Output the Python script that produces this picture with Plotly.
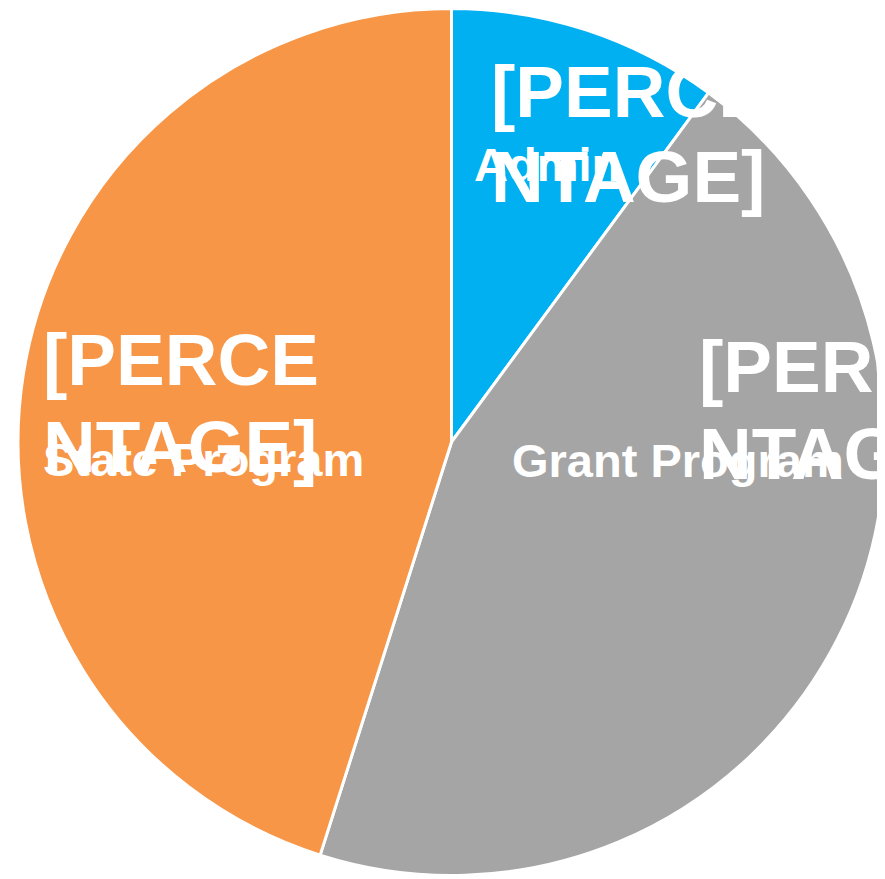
import plotly.graph_objects as go

# slice data (share of total in %)
categories = ["Admin", "Grant Program", "State Program"]
shares = [10.1, 44.8, 45.1]
colors = ["#00B0F0", "#A5A5A5", "#F79646"]
pct_label = "[PERCENTAGE]"   # the chart shows the unfilled Excel placeholder

# the page body keeps its default 8px margin, so the figure is drawn 8px in
OFF = 8
W, H = 885 - OFF, 879 - OFF


def px_x(x):
    # x in screenshot pixels -> paper coords
    return (x - OFF) / W


def px_y(y):
    return 1 - (y - OFF) / H


fig = go.Figure()
fig.add_trace(go.Pie(
    labels=categories,
    values=shares,
    sort=False,
    direction="clockwise",
    rotation=0,
    marker=dict(colors=colors, line=dict(color="white", width=3)),
    textinfo="none",
    hoverinfo="label+percent",
    showlegend=False,
    domain=dict(x=[px_x(18), 1], y=[px_y(875.5), px_y(8.5)]),
))

# label blocks, placed like the Excel data labels (screenshot pixels)
# (left x, cap-centre of line 1, line 2, category line, category left x)
label_pos = {
    "Admin": (490, 91.5, 176.5, 164.5, 473),
    "Grant Program": (698, 366.5, 453.5, 460, 511),
    "State Program": (42, 359.5, 446.5, 459, 42),
}

for cat in categories:
    x0, y1, y2, yc, xc = label_pos[cat]
    for txt, yy in ((pct_label[:6], y1), (pct_label[6:], y2)):
        fig.add_annotation(
            x=px_x(x0), y=px_y(yy), xref="paper", yref="paper",
            xanchor="left", yanchor="middle", showarrow=False,
            text="<b>%s</b>" % txt, borderpad=0,
            font=dict(family="Liberation Sans, Arial", size=73, color="white"),
        )
    fig.add_annotation(
        x=px_x(xc), y=px_y(yc), xref="paper", yref="paper",
        xanchor="left", yanchor="middle", showarrow=False,
        text="<b>%s</b>" % cat, borderpad=0,
        font=dict(family="Liberation Sans, Arial", size=47, color="white"),
    )

fig.update_layout(
    width=W, height=H,
    margin=dict(l=0, r=0, t=0, b=0),
    paper_bgcolor="white",
    plot_bgcolor="white",
)

fig.write_html("out.html")
